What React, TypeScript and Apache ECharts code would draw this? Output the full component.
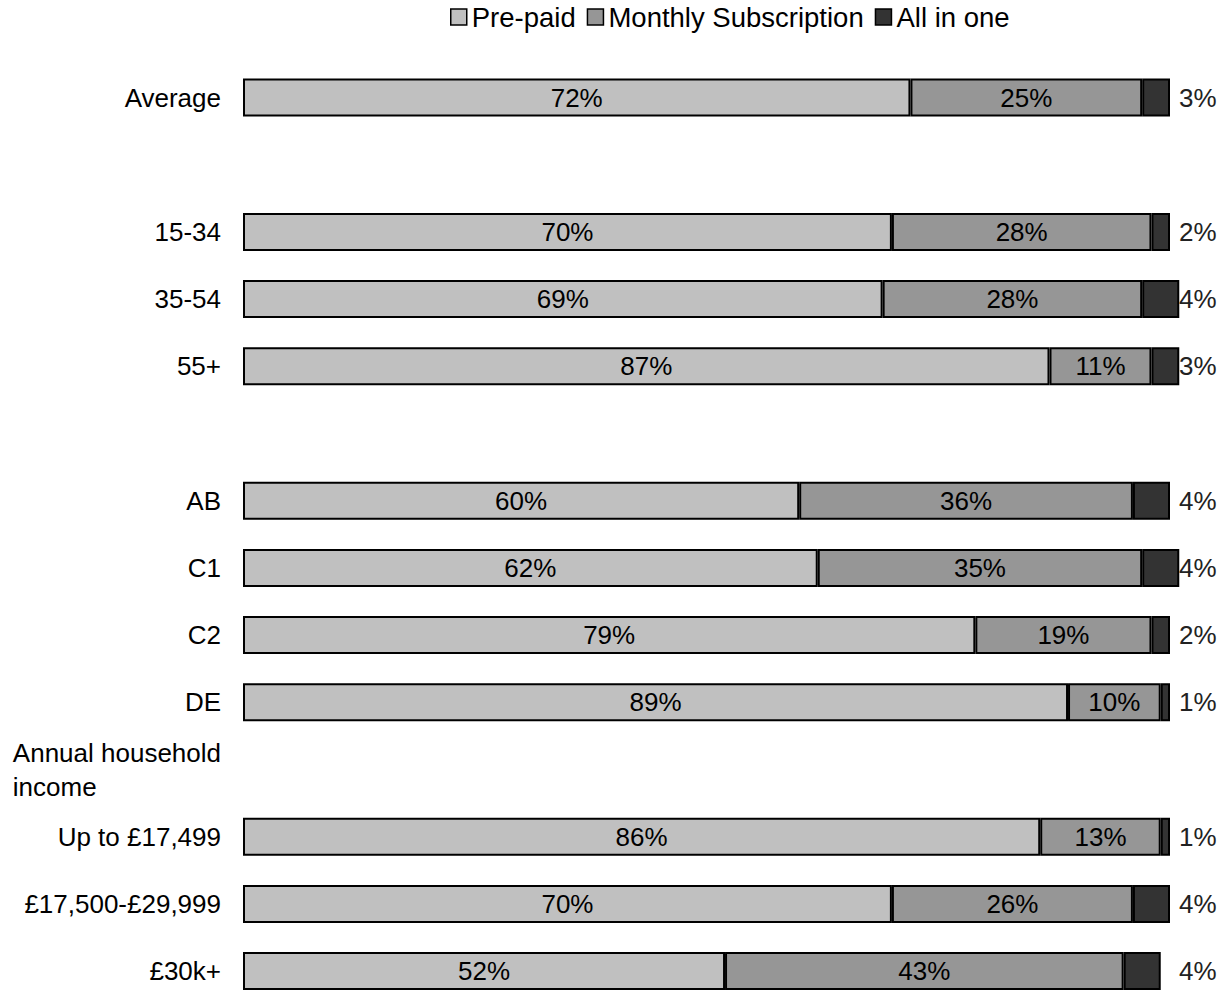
import { useEffect, useRef } from "react";
import * as echarts from "echarts";

// Rows from top to bottom; blank entries are spacer rows between the groups.
const CATEGORIES = [
  "Average",
  "",
  "15-34",
  "35-54",
  "55+",
  " ",
  "AB",
  "C1",
  "C2",
  "DE",
  "Annual household income",
  "Up to £17,499",
  "£17,500-£29,999",
  "£30k+",
];
const SERIES_NAMES = ["Pre-paid", "Monthly Subscription", "All in one"];
const PRE_PAID = [72, null, 70, 69, 87, null, 60, 62, 79, 89, null, 86, 70, 52];
const MONTHLY = [25, null, 28, 28, 11, null, 36, 35, 19, 10, null, 13, 26, 43];
const ALL_IN_ONE = [3, null, 2, 4, 3, null, 4, 4, 2, 1, null, 1, 4, 4];
const COLORS = ["#c0c0c0", "#969696", "#333333"];
const HEADING = "Annual household income";

// Layout
const WIDTH = 1226;
const HEIGHT = 991;
const FONT = "'Liberation Sans', Arial, sans-serif";
const GRID_LEFT = 243;
const X_MAX = 105;
const PX_PER_UNIT = 9.27;
const GRID_WIDTH = X_MAX * PX_PER_UNIT;
const ROW = 67.2;
const GRID_TOP = 97.5 - ROW / 2;
const GRID_HEIGHT = ROW * CATEGORIES.length;
const OUTSIDE_LABEL_GAP = 9;

export default function App() {
  const ref = useRef<HTMLDivElement>(null);

  useEffect(() => {
    document.body.style.margin = "0";
    if (!ref.current) return;
    const chart = echarts.init(ref.current, undefined, { renderer: "svg" });

    const pct = (p: any) => (p.value == null ? "" : `${p.value}%`);

    const innerLabel = {
      show: true,
      position: "inside",
      formatter: pct,
      fontSize: 26,
      fontFamily: FONT,
      color: "#000",
    };

    const barBase = {
      type: "bar",
      stack: "total",
      barWidth: 38,
      animation: false,
    };

    // The "All in one" labels sit just past the 100% mark, whatever the bar total.
    const allInOneData = ALL_IN_ONE.map((v, i) => {
      if (v == null) return null;
      const total = (PRE_PAID[i] ?? 0) + (MONTHLY[i] ?? 0) + v;
      return {
        value: v,
        label: { offset: [(100 - total) * PX_PER_UNIT + OUTSIDE_LABEL_GAP, 0] },
      };
    });

    chart.setOption({
      animation: false,
      textStyle: { fontFamily: FONT },
      legend: {
        data: SERIES_NAMES,
        left: 450,
        top: 3,
        padding: 0,
        icon: "rect",
        itemWidth: 16,
        itemHeight: 16,
        itemGap: 11,
        itemStyle: { borderColor: "#000", borderWidth: 1.5 },
        textStyle: { fontSize: 27.5, fontFamily: FONT, color: "#000" },
      },
      grid: {
        left: GRID_LEFT,
        top: GRID_TOP,
        width: GRID_WIDTH,
        height: GRID_HEIGHT,
        outerBoundsMode: "none",
        containLabel: false,
      },
      xAxis: {
        type: "value",
        min: 0,
        max: X_MAX,
        show: false,
      },
      yAxis: {
        type: "category",
        inverse: true,
        data: CATEGORIES,
        axisLine: { show: false },
        axisTick: { show: false },
        splitLine: { show: false },
        axisLabel: {
          margin: 22,
          fontSize: 26,
          fontFamily: FONT,
          color: "#000",
          interval: 0,
          formatter: (v: string) =>
            v === HEADING ? "{h|Annual household}\n{h|income}" : v,
          rich: {
            h: {
              align: "left",
              fontSize: 26,
              lineHeight: 34,
              fontFamily: FONT,
              color: "#000",
            },
          },
        },
      },
      series: [
        {
          ...barBase,
          name: SERIES_NAMES[0],
          data: PRE_PAID,
          itemStyle: { color: COLORS[0], borderColor: "#000", borderWidth: 2 },
          label: innerLabel,
        },
        {
          ...barBase,
          name: SERIES_NAMES[1],
          data: MONTHLY,
          itemStyle: { color: COLORS[1], borderColor: "#000", borderWidth: 2 },
          label: innerLabel,
        },
        {
          ...barBase,
          name: SERIES_NAMES[2],
          data: allInOneData,
          itemStyle: { color: COLORS[2], borderColor: "#000", borderWidth: 2 },
          label: {
            show: true,
            position: "right",
            distance: 0,
            formatter: pct,
            fontSize: 26,
            fontFamily: FONT,
            color: "#222",
          },
        },
      ],
    });

    return () => chart.dispose();
  }, []);

  return <div ref={ref} style={{ width: WIDTH, height: HEIGHT }} />;
}
